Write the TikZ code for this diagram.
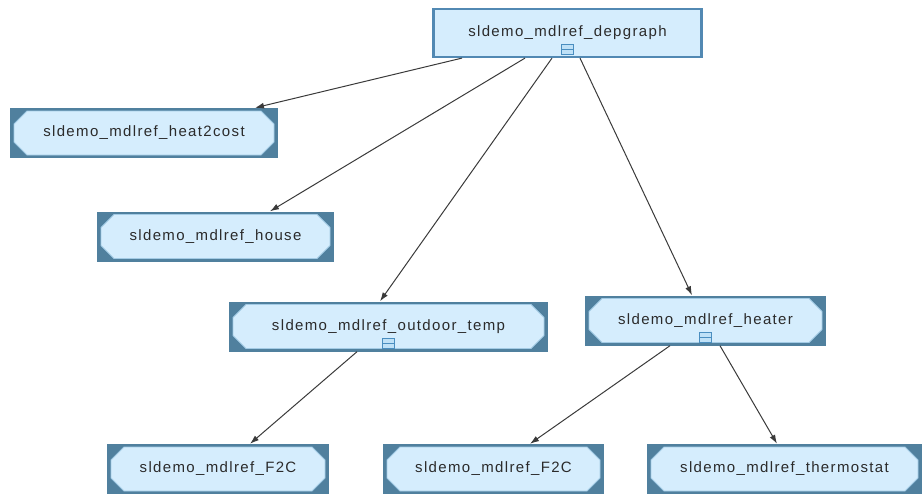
\documentclass[tikz,border=0pt]{standalone}
\usepackage{fontspec}
\usetikzlibrary{arrows.meta}
\newfontfamily\mdlfont[LetterSpace=9]{Liberation Sans}

\definecolor{mdldark}{HTML}{50809E}
\definecolor{mdllight}{HTML}{D5EDFD}
\definecolor{mdledge}{HTML}{A3CBE5}
\definecolor{mdlborder}{HTML}{5289B3}
\definecolor{mdltext}{HTML}{2B2B2B}
\definecolor{arrowgray}{HTML}{3A3A3A}
\definecolor{iconblue}{HTML}{4A8EC0}
\definecolor{iconfill}{HTML}{BFE1F7}

% face of a referenced model block: dark frame, light octagon
\newcommand{\mdlface}{%
	\fill[mdldark] (path picture bounding box.south west) rectangle (path picture bounding box.north east);
	\filldraw[fill=mdllight, draw=mdledge, line width=0.8pt]
		([xshift=17pt,yshift=-3pt]path picture bounding box.north west) --
		([xshift=-17pt,yshift=-3pt]path picture bounding box.north east) --
		([xshift=-4pt,yshift=-16pt]path picture bounding box.north east) --
		([xshift=-4pt,yshift=16pt]path picture bounding box.south east) --
		([xshift=-17pt,yshift=3pt]path picture bounding box.south east) --
		([xshift=17pt,yshift=3pt]path picture bounding box.south west) --
		([xshift=4pt,yshift=16pt]path picture bounding box.south west) --
		([xshift=4pt,yshift=-16pt]path picture bounding box.north west) -- cycle;}

\tikzset{
	mdltext/.style={font=\mdlfont\fontsize{15}{17}\selectfont, text=mdltext},
	mdlblock/.style={mdltext, minimum height=50pt, inner sep=0pt, path picture={\mdlface}},
	toplevel/.style={mdltext, draw=mdlborder, line width=2.2pt, fill=mdllight, minimum height=48pt, inner sep=0pt},
	expander/.style={draw=iconblue, fill=iconfill, line width=1pt, minimum width=12pt, minimum height=10pt,
		inner sep=0pt, anchor=south,
		path picture={\draw[iconblue, line width=1pt] (path picture bounding box.west) -- (path picture bounding box.east);}},
	link/.style={draw=arrowgray, line width=1pt, -{Latex[length=9pt,width=6pt]}}
}

\begin{document}
\begin{tikzpicture}[x=1pt, y=-1pt]
		\useasboundingbox (0,0) rectangle (923,495);

		% top model and its references
		\node [toplevel, minimum width=268pt] (depgraph) at (567.5,33) {sldemo\_mdlref\_depgraph};
		\node [mdlblock, minimum width=268pt] (heatcost) at (144,133) {sldemo\_mdlref\_heat2cost};
		\node [mdlblock, minimum width=237pt] (house) at (215.5,236.5) {sldemo\_mdlref\_house};
		\node [mdlblock, minimum width=319pt] (outdoor) at (388.5,326.5) {sldemo\_mdlref\_outdoor\_temp};
		\node [mdlblock, minimum width=241pt] (heater) at (705.5,320.5) {sldemo\_mdlref\_heater};

		% bottom row
		\node [mdlblock, minimum width=222pt] (ftcleft) at (218,469) {sldemo\_mdlref\_F2C};
		\node [mdlblock, minimum width=221pt] (ftcright) at (493.5,469) {sldemo\_mdlref\_F2C};
		\node [mdlblock, minimum width=275pt] (thermo) at (784.5,469) {sldemo\_mdlref\_thermostat};

		% expand icons
		\node [expander] (depicon) at ([yshift=3pt]depgraph.south) {};
		\node [expander] (outicon) at ([yshift=3pt]outdoor.south) {};
		\node [expander] (heaticon) at ([yshift=3pt]heater.south) {};

		\draw [link] ([xshift=-105.5pt]depgraph.south) -- ([xshift=111pt]heatcost.north);
		\draw [link] ([xshift=-42.5pt]depgraph.south) -- ([xshift=54.5pt]house.north);
		\draw [link] ([xshift=-15.5pt]depgraph.south) -- ([xshift=-8.5pt]outdoor.north);
		\draw [link] ([xshift=12.5pt]depgraph.south) -- ([xshift=-13.5pt]heater.north);
		\draw [link] ([xshift=-31.5pt]outdoor.south) -- ([xshift=32pt]ftcleft.north);
		\draw [link] ([xshift=-35.5pt]heater.south) -- ([xshift=36.5pt]ftcright.north);
		\draw [link] ([xshift=14.5pt]heater.south) -- ([xshift=-7.5pt]thermo.north);
	\end{tikzpicture}
\end{document}
